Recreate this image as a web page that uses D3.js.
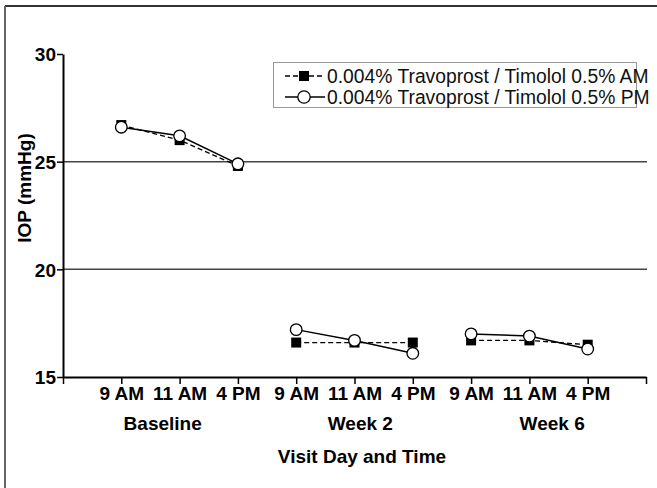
<!DOCTYPE html>
<html>
<head>
<meta charset="utf-8">
<script src="https://cdn.jsdelivr.net/npm/d3@7"></script>
<style>
  body { margin: 0; background: #fff; }
  svg { display: block; font-family: "Liberation Sans", Arial, Helvetica, sans-serif; }
</style>
</head>
<body>
<div id="chart"></div>
<script>
const times = ["9 AM", "11 AM", "4 PM"];
const groups = ["Baseline", "Week 2", "Week 6"];
const amValues = [26.7, 26.0, 24.8, 16.6, 16.6, 16.6, 16.7, 16.7, 16.5];
const pmValues = [26.6, 26.2, 24.9, 17.2, 16.7, 16.1, 17.0, 16.9, 16.3];
const yTicks = [15, 20, 25, 30];
const gridValues = [20, 25];
const seriesNames = [
  "0.004% Travoprost / Timolol 0.5% AM",
  "0.004% Travoprost / Timolol 0.5% PM"
];

const width = 657, height = 488;
const labelSize = "19px";
const svg = d3.select("#chart").append("svg")
  .attr("width", width)
  .attr("height", height);

// outer frame (top + left)
svg.append("line").attr("x1", 5).attr("x2", width).attr("y1", 6).attr("y2", 6)
  .attr("stroke", "#333").attr("stroke-width", 2);
svg.append("line").attr("x1", 5).attr("x2", 5).attr("y1", 6).attr("y2", height)
  .attr("stroke", "#666").attr("stroke-width", 2);

const x = d3.scaleLinear().domain([0, 10]).range([63, 646]);
const y = d3.scaleLinear().domain([15, 30]).range([377, 54]);

// gridlines
svg.selectAll(".grid")
  .data(gridValues)
  .join("line")
  .attr("x1", x(0)).attr("x2", x(10) + 1)
  .attr("y1", d => y(d)).attr("y2", d => y(d))
  .attr("stroke", "#444").attr("stroke-width", 1.5);

// y axis
const yAxis = svg.append("g")
  .attr("transform", `translate(${x(0)},0)`)
  .call(d3.axisLeft(y).tickValues(yTicks).tickSize(6).tickSizeOuter(0).tickPadding(1));
yAxis.select(".domain").attr("stroke-width", 2);
yAxis.selectAll(".tick line").attr("stroke-width", 1.5);
yAxis.selectAll("text")
  .style("font-size", labelSize).style("font-weight", "bold")
  .style("font-family", "'Liberation Sans', Arial, sans-serif")
  .attr("fill", "#000").attr("dy", "0.36em");

// x axis
const points = [];
groups.forEach((g, gi) => times.forEach((t, ti) => points.push({ g: gi, t, pos: gi * 3 + ti + 1 })));

const xAxis = svg.append("g")
  .attr("transform", `translate(0,${y(15)})`)
  .call(d3.axisBottom(x).tickValues(d3.range(0, 11)).tickSize(7).tickSizeOuter(0)
    .tickFormat(d => { const p = points.find(q => q.pos === d); return p ? p.t : ""; }));
xAxis.select(".domain").attr("stroke-width", 2);
xAxis.selectAll(".tick line").attr("stroke-width", 1.5);
xAxis.selectAll("text")
  .style("font-size", labelSize).style("font-weight", "bold")
  .style("font-family", "'Liberation Sans', Arial, sans-serif")
  .attr("fill", "#000").attr("y", 10).attr("dy", "0.71em");

const groupLabelPos = [1.71, 5.1, 8.39];
svg.selectAll(".group-label")
  .data(groups)
  .join("text")
  .attr("x", (d, i) => x(groupLabelPos[i]))
  .attr("y", 430)
  .attr("text-anchor", "middle")
  .style("font-size", labelSize).style("font-weight", "bold")
  .text(d => d);

svg.append("text")
  .attr("x", 362).attr("y", 463)
  .attr("text-anchor", "middle")
  .style("font-size", labelSize).style("font-weight", "bold")
  .text("Visit Day and Time");

svg.append("text")
  .attr("transform", "rotate(-90)")
  .attr("x", -188).attr("y", 31)
  .attr("text-anchor", "middle")
  .style("font-size", labelSize).style("font-weight", "bold")
  .text("IOP (mmHg)");

// series lines, per visit group
const line = d3.line().x(d => x(d.pos)).y(d => y(d.v));
const am = points.map((p, i) => ({ ...p, v: amValues[i] }));
const pm = points.map((p, i) => ({ ...p, v: pmValues[i] }));

groups.forEach((g, gi) => {
  svg.append("path")
    .datum(am.filter(d => d.g === gi))
    .attr("d", line).attr("fill", "none")
    .attr("stroke", "#000").attr("stroke-width", 1.3)
    .attr("stroke-dasharray", "5,3");
  svg.append("path")
    .datum(pm.filter(d => d.g === gi))
    .attr("d", line).attr("fill", "none")
    .attr("stroke", "#000").attr("stroke-width", 1.5);
});

svg.selectAll(".sq")
  .data(am)
  .join("rect")
  .attr("x", d => x(d.pos) - 5).attr("y", d => y(d.v) - 5)
  .attr("width", 10).attr("height", 10)
  .attr("fill", "#000");

svg.selectAll(".circ")
  .data(pm)
  .join("circle")
  .attr("cx", d => x(d.pos)).attr("cy", d => y(d.v))
  .attr("r", 5.8)
  .attr("fill", "#fff").attr("stroke", "#000").attr("stroke-width", 1.3);

// legend
const legend = svg.append("g");
legend.append("rect")
  .attr("x", 273.5).attr("y", 62.5).attr("width", 363).attr("height", 45)
  .attr("fill", "#fff").attr("stroke", "#999").attr("stroke-width", 1);

const rowY = [76, 97];
legend.append("line")
  .attr("x1", 285).attr("x2", 325).attr("y1", rowY[0]).attr("y2", rowY[0])
  .attr("stroke", "#000").attr("stroke-width", 1.3).attr("stroke-dasharray", "5,3");
legend.append("rect")
  .attr("x", 299).attr("y", rowY[0] - 5).attr("width", 10).attr("height", 10)
  .attr("fill", "#000");
legend.append("line")
  .attr("x1", 285).attr("x2", 325).attr("y1", rowY[1]).attr("y2", rowY[1])
  .attr("stroke", "#000").attr("stroke-width", 1.5);
legend.append("circle")
  .attr("cx", 304).attr("cy", rowY[1]).attr("r", 6.2)
  .attr("fill", "#fff").attr("stroke", "#000").attr("stroke-width", 1.3);

legend.selectAll(".legend-text")
  .data(seriesNames)
  .join("text")
  .attr("x", 327)
  .attr("y", (d, i) => rowY[i] + 6.5)
  .style("font-size", "19.3px")
  .attr("fill", "#111")
  .text(d => d);
</script>
</body>
</html>
